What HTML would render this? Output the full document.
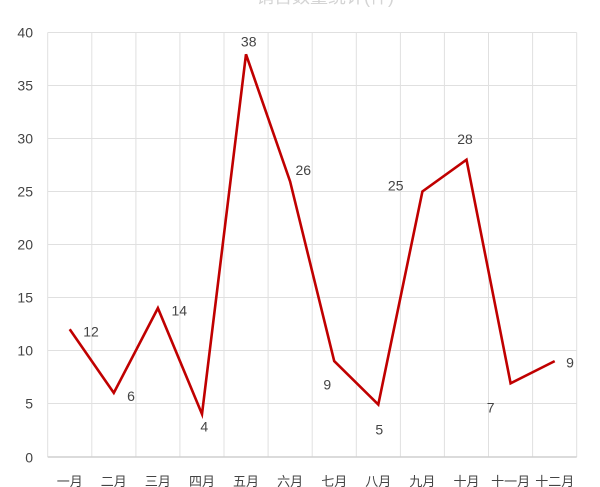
<!DOCTYPE html>
<html><head><meta charset="utf-8"><style>
html,body{margin:0;padding:0;background:#fff;}
svg{display:block;}
text{font-family:"Liberation Sans","Noto Sans CJK SC",sans-serif;}
</style></head><body>
<svg width="600" height="487" viewBox="0 0 600 487" xmlns="http://www.w3.org/2000/svg">
<rect width="600" height="487" fill="#fff"/>
<text x="325" y="3" font-size="18" fill="#d4d4d4" text-anchor="middle">销售数量统计(件)</text>
<g stroke="#e0e0e0" stroke-width="1">
<line x1="47.7" y1="32.5" x2="576.7" y2="32.5"/>
<line x1="47.7" y1="85.5" x2="576.7" y2="85.5"/>
<line x1="47.7" y1="138.5" x2="576.7" y2="138.5"/>
<line x1="47.7" y1="191.5" x2="576.7" y2="191.5"/>
<line x1="47.7" y1="244.5" x2="576.7" y2="244.5"/>
<line x1="47.7" y1="297.5" x2="576.7" y2="297.5"/>
<line x1="47.7" y1="350.5" x2="576.7" y2="350.5"/>
<line x1="47.7" y1="403.5" x2="576.7" y2="403.5"/>
<line x1="47.7" y1="32.5" x2="47.7" y2="457"/>
<line x1="91.8" y1="32.5" x2="91.8" y2="457"/>
<line x1="135.9" y1="32.5" x2="135.9" y2="457"/>
<line x1="179.9" y1="32.5" x2="179.9" y2="457"/>
<line x1="224" y1="32.5" x2="224" y2="457"/>
<line x1="268.1" y1="32.5" x2="268.1" y2="457"/>
<line x1="312.2" y1="32.5" x2="312.2" y2="457"/>
<line x1="356.3" y1="32.5" x2="356.3" y2="457"/>
<line x1="400.4" y1="32.5" x2="400.4" y2="457"/>
<line x1="444.4" y1="32.5" x2="444.4" y2="457"/>
<line x1="488.5" y1="32.5" x2="488.5" y2="457"/>
<line x1="532.6" y1="32.5" x2="532.6" y2="457"/>
<line x1="576.7" y1="32.5" x2="576.7" y2="457"/>
</g>
<line x1="47.7" y1="457" x2="576.7" y2="457" stroke="#cfcfcf" stroke-width="1.5"/>
<g font-size="14" fill="#444" text-anchor="end">
<text x="33" y="37.5">40</text>
<text x="33" y="90.5">35</text>
<text x="33" y="143.5">30</text>
<text x="33" y="196.5">25</text>
<text x="33" y="249.5">20</text>
<text x="33" y="302.5">15</text>
<text x="33" y="355.5">10</text>
<text x="33" y="408.5">5</text>
<text x="33" y="462.5">0</text>
</g>
<g font-size="13" fill="#444" text-anchor="middle">
<text x="69.7" y="486">一月</text>
<text x="113.8" y="486">二月</text>
<text x="157.9" y="486">三月</text>
<text x="202" y="486">四月</text>
<text x="246" y="486">五月</text>
<text x="290.1" y="486">六月</text>
<text x="334.2" y="486">七月</text>
<text x="378.3" y="486">八月</text>
<text x="422.4" y="486">九月</text>
<text x="466.5" y="486">十月</text>
<text x="510.6" y="486">十一月</text>
<text x="554.7" y="486">十二月</text>
</g>
<polyline fill="none" stroke="#c00000" stroke-width="2.6" stroke-linejoin="miter" points="69.7,329.3 113.8,392.9 157.9,308.1 202,414.1 246,54.3 290.1,181.5 334.2,361.1 378.3,404.5 422.4,191.5 466.5,159.7 510.6,383.3 554.7,361.1"/>
<g font-size="14" fill="#444" text-anchor="middle">
<text x="91" y="336.7">12</text>
<text x="131" y="401">6</text>
<text x="179.3" y="315.7">14</text>
<text x="204.3" y="431.7">4</text>
<text x="248.7" y="46.7">38</text>
<text x="303.3" y="175">26</text>
<text x="327.3" y="389.3">9</text>
<text x="379.3" y="434.3">5</text>
<text x="395.7" y="190.7">25</text>
<text x="465" y="144">28</text>
<text x="490.7" y="412.3">7</text>
<text x="570" y="367.3">9</text>
</g>
</svg>
</body></html>
